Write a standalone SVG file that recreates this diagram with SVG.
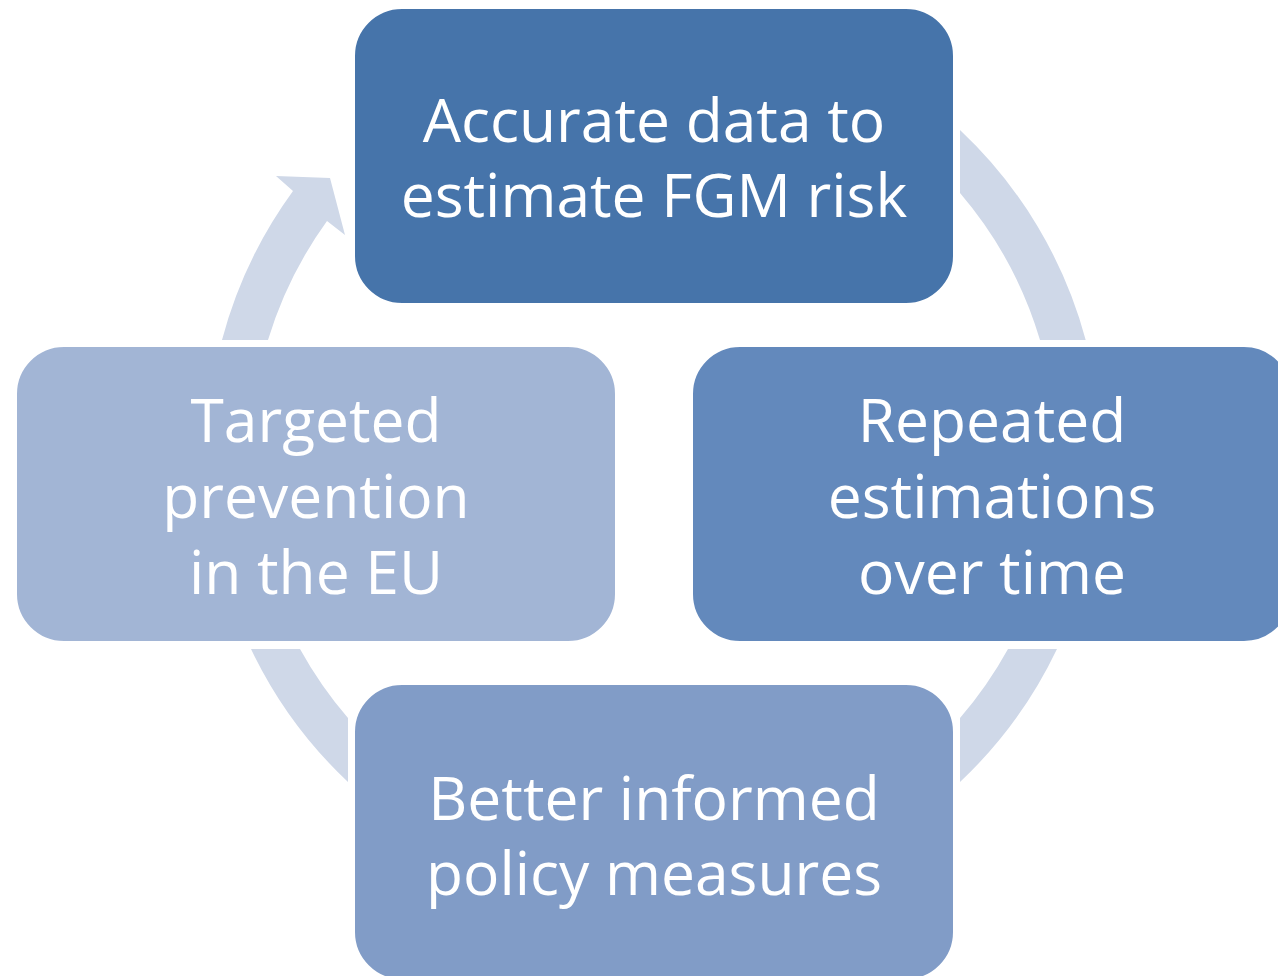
<svg xmlns="http://www.w3.org/2000/svg" width="1278" height="976" viewBox="0 0 1278 976">
<style>
.box{stroke:#ffffff;stroke-width:2}
.ring{fill:#CFD8E8}
.t{font-family:"Open Sans","Noto Sans",sans-serif;font-size:60.5px;fill:#ffffff;text-anchor:middle}
</style>
<rect width="1278" height="976" fill="#ffffff"/>
<g id="connectors">
<path class="ring" d="M960,130 A447,447 0 0 1 1085.7,340 L1040,340 A403,403 0 0 0 960,193 Z"/>
<path class="ring" d="M1057,649 A447,447 0 0 1 960,782 L960,718 A403,403 0 0 0 1008,649 Z"/>
<path class="ring" d="M251,649 A447,447 0 0 0 348,782 L348,718 A403,403 0 0 1 300,649 Z"/>
<path class="ring" d="M222,340 A447,447 0 0 1 293,191 L276,176 L330,178 L345,235 L327,221 A403,403 0 0 0 268,340 Z"/>
</g>
<g id="node-top">
<rect class="box" x="354" y="8" width="600" height="296" rx="48" fill="#4674AA"/>
<text class="t" x="654" y="142">Accurate data to</text>
<text class="t" x="654" y="217">estimate FGM risk</text>
</g>
<g id="node-right">
<rect class="box" x="692" y="346" width="600" height="296" rx="48" fill="#6389BC"/>
<text class="t" x="992" y="442">Repeated</text>
<text class="t" x="992" y="518">estimations</text>
<text class="t" x="992" y="594">over time</text>
</g>
<g id="node-bottom">
<rect class="box" x="354" y="684" width="600" height="296" rx="48" fill="#819CC7"/>
<text class="t" x="654" y="820">Better informed</text>
<text class="t" x="654" y="895">policy measures</text>
</g>
<g id="node-left">
<rect class="box" x="16" y="346" width="600" height="296" rx="48" fill="#A2B5D5"/>
<text class="t" x="316" y="442">Targeted</text>
<text class="t" x="316" y="518">prevention</text>
<text class="t" x="316" y="594">in the EU</text>
</g>
</svg>
